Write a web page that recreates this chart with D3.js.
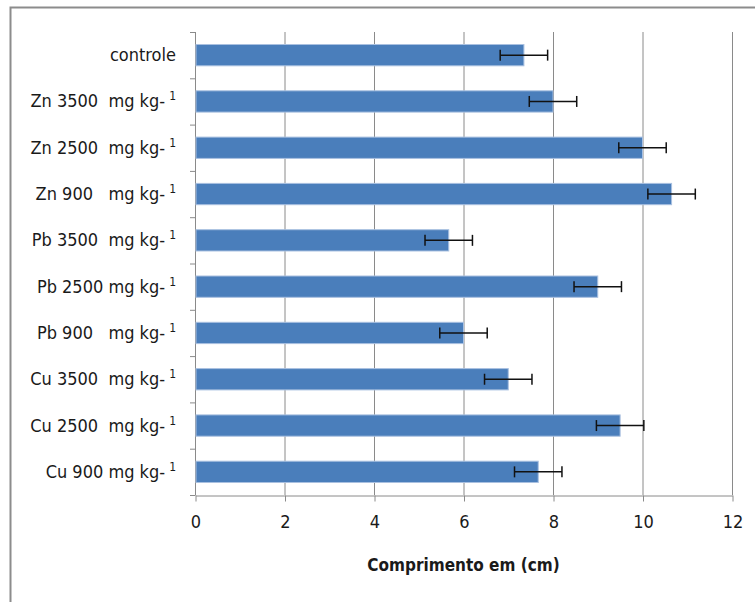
<!DOCTYPE html>
<html>
<head>
<meta charset="utf-8">
<script src="https://cdn.jsdelivr.net/npm/d3@7"></script>
<style>
  html, body { margin: 0; padding: 0; background: #fff; }
  svg { display: block; }
  text { font-family: "Liberation Sans Narrow", "DejaVu Sans Condensed", "Open Sans", sans-serif; fill: #1a1a1a; white-space: pre; }
</style>
</head>
<body>
<svg id="chart" width="755" height="602"></svg>
<script>
// Treatments, top to bottom
const treatments = ["controle", "Zn 3500  mg kg-", "Zn 2500  mg kg-", "Zn 900   mg kg-",
                    "Pb 3500  mg kg-", "Pb 2500 mg kg-", "Pb 900   mg kg-",
                    "Cu 3500  mg kg-", "Cu 2500  mg kg-", "Cu 900 mg kg-"];
const unitExponent = [null, "1", "1", "1", "1", "1", "1", "1", "1", "1"];
// Mean root length (cm) and error
const lengths = [7.35, 8.0, 10.0, 10.65, 5.67, 9.0, 6.0, 7.0, 9.5, 7.67];
const errors  = [0.53, 0.53, 0.53, 0.53, 0.53, 0.53, 0.53, 0.53, 0.53, 0.53];
const xTicks = [0, 2, 4, 6, 8, 10, 12];
const xTitle = "Comprimento em (cm)";

const svg = d3.select("#chart");
const plotL = 195, plotR = 732, plotT = 32, plotB = 495;

// Outer frame
svg.append("rect").attr("x", 10.5).attr("y", 7.5).attr("width", 800).attr("height", 700)
  .attr("fill", "#fff").attr("stroke", "#8c8c8c").attr("stroke-width", 2);

const x = d3.scaleLinear().domain([0, 12]).range([plotL, plotR]);
const y = d3.scaleBand().domain(treatments).range([plotT, plotB]).paddingInner(0.54).paddingOuter(0.27);
const band = d3.scaleBand().domain(treatments).range([plotT, plotB]);

// Vertical gridlines
svg.append("g").selectAll("line").data(xTicks.filter(d => d > 0)).join("line")
  .attr("x1", d => x(d) + 0.5).attr("x2", d => x(d) + 0.5)
  .attr("y1", plotT).attr("y2", plotB)
  .attr("stroke", "#8a8a8a").attr("stroke-width", 1);

// X axis
const xAxis = svg.append("g").attr("transform", `translate(0.5,${plotB + 0.5})`)
  .call(d3.axisBottom(x).tickValues(xTicks).tickSize(6).tickPadding(14).tickSizeOuter(0));
xAxis.select(".domain").attr("stroke", "#8a8a8a");
xAxis.selectAll(".tick line").attr("stroke", "#8a8a8a");
xAxis.selectAll(".tick text").attr("font-size", 18).attr("fill", "#1a1a1a")
  .style("font-family", "'Liberation Sans Narrow', 'DejaVu Sans Condensed', sans-serif");

// Y axis line with category separators
svg.append("line").attr("x1", plotL + 0.5).attr("x2", plotL + 0.5).attr("y1", plotT).attr("y2", plotB)
  .attr("stroke", "#8a8a8a");
const seps = treatments.map(t => band(t)).concat([plotB]);
svg.append("g").selectAll("line").data(seps).join("line")
  .attr("x1", plotL - 5).attr("x2", plotL + 0.5)
  .attr("y1", d => d + 0.5).attr("y2", d => d + 0.5)
  .attr("stroke", "#8a8a8a");

// Bars
svg.append("g").selectAll("rect").data(treatments).join("rect")
  .attr("x", plotL + 1).attr("y", d => y(d))
  .attr("width", (d, i) => x(lengths[i]) - plotL - 1)
  .attr("height", y.bandwidth())
  .attr("fill", "#4a7ebb").attr("stroke", "#a9c0e0").attr("stroke-width", 1);

// Error bars
const eb = svg.append("g").attr("stroke", "#111").attr("stroke-width", 1.5);
treatments.forEach((t, i) => {
  const cy = y(t) + y.bandwidth() / 2;
  const x1 = x(lengths[i] - errors[i]), x2 = x(lengths[i] + errors[i]);
  eb.append("line").attr("x1", x1).attr("x2", x2).attr("y1", cy).attr("y2", cy);
  eb.append("line").attr("x1", x1).attr("x2", x1).attr("y1", cy - 5.5).attr("y2", cy + 5.5);
  eb.append("line").attr("x1", x2).attr("x2", x2).attr("y1", cy - 5.5).attr("y2", cy + 5.5);
});

// Category labels
const labels = svg.append("g").selectAll("text").data(treatments).join("text")
  .attr("x", 176).attr("y", d => band(d) + band.bandwidth() / 2 + 6)
  .attr("text-anchor", "end").attr("font-size", 18);
labels.append("tspan").text(d => d);
labels.filter((d, i) => unitExponent[i]).append("tspan")
  .attr("dx", 4).attr("dy", -7).attr("font-size", 12)
  .text(d => unitExponent[treatments.indexOf(d)]);

// Axis title
svg.append("text").attr("x", (plotL + plotR) / 2).attr("y", 571)
  .attr("text-anchor", "middle").attr("font-size", 17).attr("font-weight", "bold")
  .text(xTitle);
</script>
</body>
</html>
